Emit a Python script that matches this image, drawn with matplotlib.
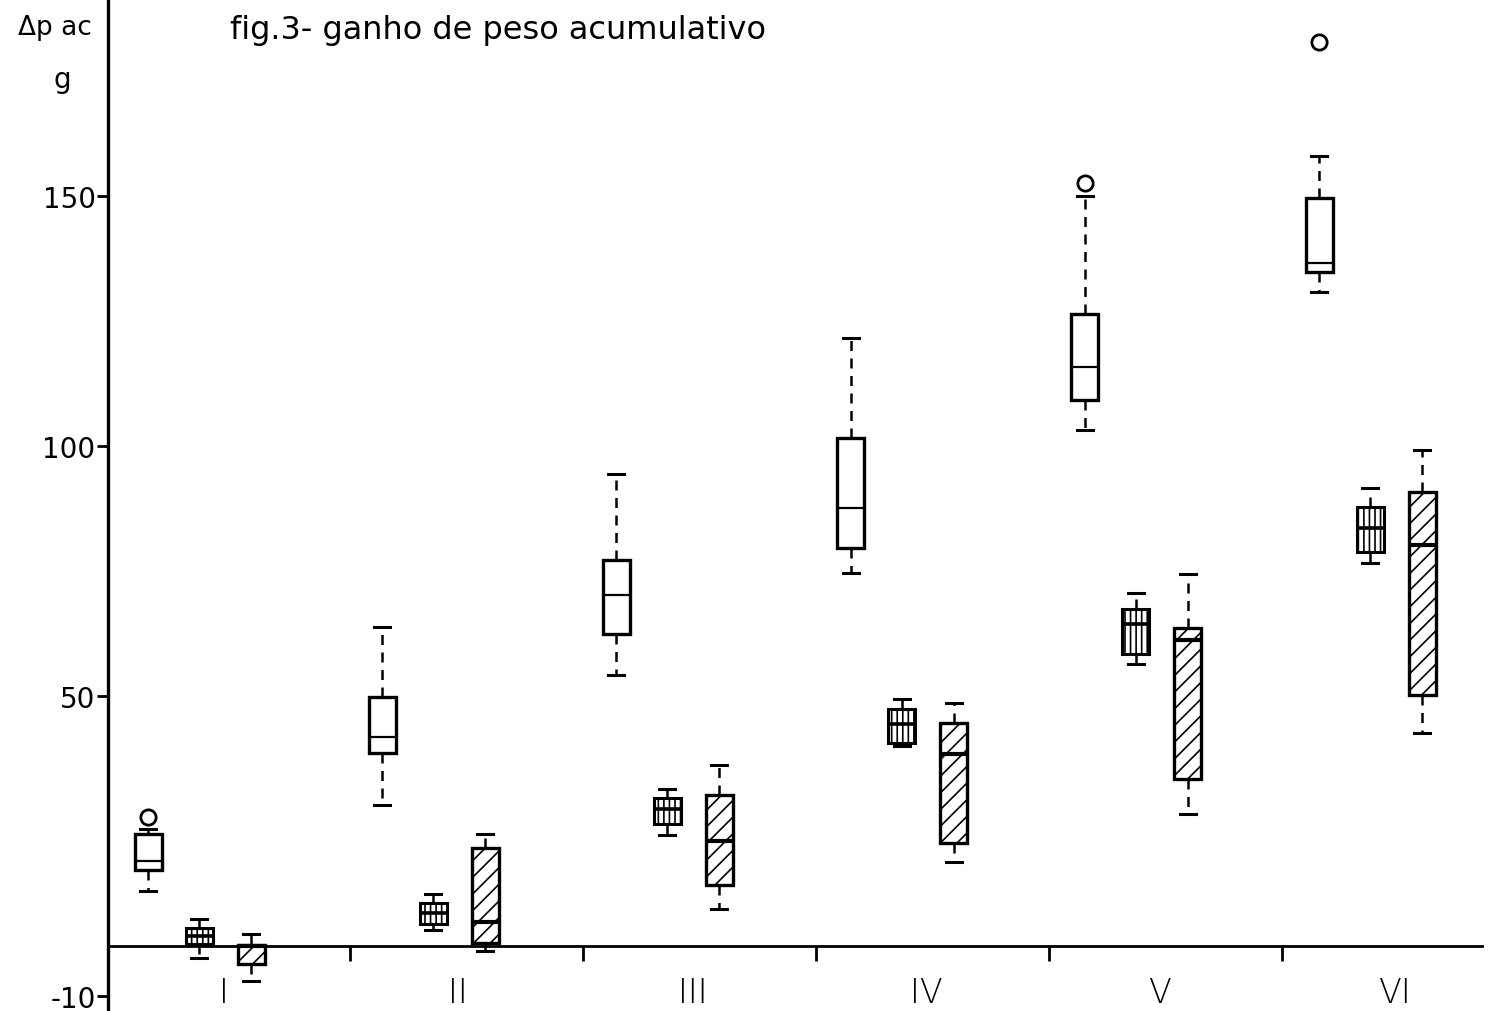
import matplotlib
matplotlib.use("Agg")
import matplotlib.pyplot as plt
import numpy as np

# ---- data ----
groups = ['I', 'II', 'III', 'IV', 'V', 'VI']

open_lo = [11.1, 28.2, 54.2, 74.6, 103.3, 130.9]
open_q1 = [15.2, 38.6, 62.4, 79.7, 109.3, 134.9]
open_med = [17.1, 41.9, 70.3, 87.6, 115.9, 136.7]
open_q3 = [22.5, 49.9, 77.3, 101.7, 126.4, 149.6]
open_hi = [23.5, 63.9, 94.4, 121.6, 150.0, 158.1]
open_fliers = [[25.9], [], [], [], [152.7], [180.9]]

cross_lo = [-2.4, 3.2, 22.2, 40.0, 56.4, 76.6]
cross_q1 = [0.4, 4.5, 24.4, 40.6, 58.4, 78.9]
cross_med = [2.1, 6.7, 27.4, 44.5, 64.4, 83.7]
cross_q3 = [3.7, 8.7, 29.7, 47.4, 67.5, 87.9]
cross_hi = [5.4, 10.4, 31.4, 49.4, 70.6, 91.6]

hatch_lo = [-6.9, -0.9, 7.4, 16.9, 26.4, 42.7]
hatch_q1 = [-3.6, 0.7, 12.2, 20.7, 33.5, 50.2]
hatch_med = [0.0, 4.9, 21.1, 38.4, 61.2, 80.2]
hatch_q3 = [0.3, 19.7, 30.2, 44.7, 63.6, 90.9]
hatch_hi = [2.4, 22.4, 36.2, 48.6, 74.4, 99.3]

yticks = [-10, 50, 100, 150]
ytick_labels = ['-10', '50', '100', '150']
title = 'fig.3- ganho de peso acumulativo'

# ---- layout ----
W, H = 1492, 1012
fig = plt.figure(figsize=(W / 100, H / 100), dpi=100)
ax = fig.add_axes([108 / W, 0.0, 1 - 108 / W, 1.0])
ax.set_xlim(108, 1492)
ax.set_ylim(-13, 189.4)

plt.rcParams['hatch.linewidth'] = 1.2

spacing = 234.2
open_x = 148 + spacing * np.arange(len(groups))
cross_x = open_x + 51
hatch_x = open_x + 103
bw = 27


def stats(lo, q1, med, q3, hi, fl=None):
    out = []
    for i in range(len(lo)):
        out.append(dict(whislo=lo[i], q1=q1[i], med=med[i], q3=q3[i],
                        whishi=hi[i], fliers=(fl[i] if fl else [])))
    return out


common = dict(widths=bw, capwidths=16, patch_artist=True, manage_ticks=False,
              whiskerprops=dict(color='black', linewidth=1.8, linestyle=(0, (4, 3))),
              capprops=dict(color='black', linewidth=2.2),
              flierprops=dict(marker='o', markersize=11, markerfacecolor='white',
                              markeredgecolor='black', markeredgewidth=2.0))

b1 = ax.bxp(stats(open_lo, open_q1, open_med, open_q3, open_hi, open_fliers),
            positions=open_x,
            boxprops=dict(facecolor='white', edgecolor='black', linewidth=2.4),
            medianprops=dict(color='black', linewidth=1.6), **common)
b2 = ax.bxp(stats(cross_lo, cross_q1, cross_med, cross_q3, cross_hi),
            positions=cross_x,
            boxprops=dict(facecolor='white', edgecolor='black', linewidth=2.2, hatch='|||'),
            medianprops=dict(color='black', linewidth=2.6), **common)
b3 = ax.bxp(stats(hatch_lo, hatch_q1, hatch_med, hatch_q3, hatch_hi),
            positions=hatch_x,
            boxprops=dict(facecolor='white', edgecolor='black', linewidth=2.4, hatch='//'),
            medianprops=dict(color='black', linewidth=3.0), **common)

# zero line and group separator ticks
ax.axhline(0, xmin=0, xmax=(1482 - 108) / (1492 - 108), color='black', linewidth=2.0, zorder=1)
sep_x = 350 + 233 * np.arange(len(groups) - 1)
ax.vlines(sep_x, -3.0, 0, color='black', linewidth=2.0)

# group labels
for gx, g in zip(open_x, groups):
    ax.text(gx + 76, -9.3, g, ha='center', va='center', fontsize=24,
            family='DejaVu Sans', fontweight='light')

# axes styling
for s in ['top', 'right', 'bottom']:
    ax.spines[s].set_visible(False)
ax.spines['left'].set_linewidth(2.4)
ax.set_xticks([])
ax.set_yticks(yticks)
ax.set_yticklabels(ytick_labels, fontsize=20, family='DejaVu Sans')
ax.tick_params(axis='y', direction='out', length=8, width=2, pad=1)

fig.text(18 / W, 1 - 28 / H, 'Δp ac', fontsize=19, va='center', ha='left', family='DejaVu Sans')
fig.text(62 / W, 1 - 80 / H, 'g', fontsize=20, va='center', ha='center', family='DejaVu Sans')
fig.text(230 / W, 1 - 30 / H, title, fontsize=23, va='center', ha='left', family='DejaVu Sans')

fig.savefig('out.png', dpi=100)
